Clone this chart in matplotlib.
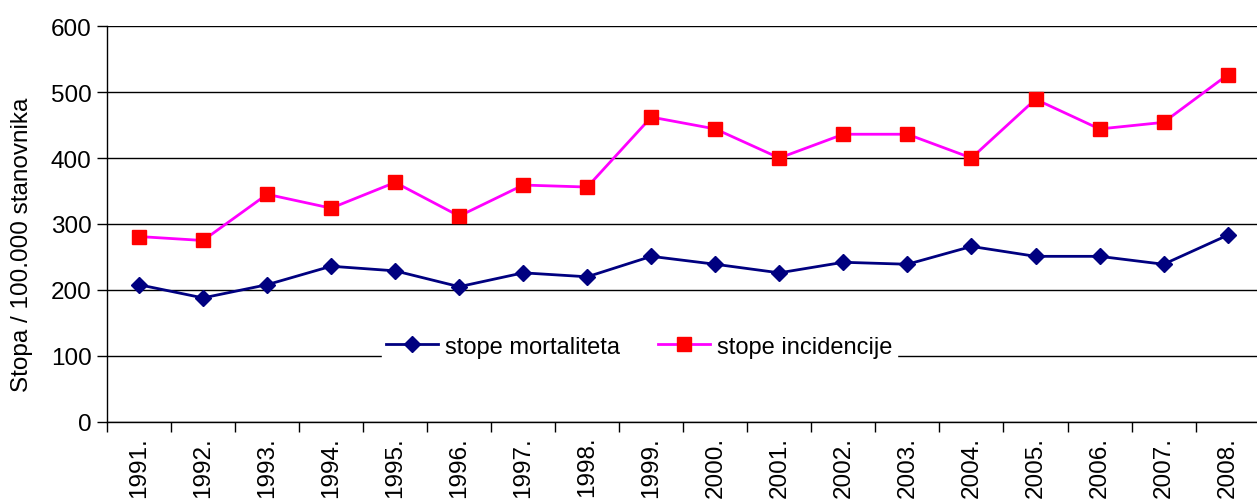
import matplotlib.pyplot as plt
import numpy as np

years = ["1991.", "1992.", "1993.", "1994.", "1995.", "1996.", "1997.", "1998.", "1999.",
         "2000.", "2001.", "2002.", "2003.", "2004.", "2005.", "2006.", "2007.", "2008."]
mortalitet = [208, 188, 208, 236, 229, 205, 226, 220, 251,
              239, 226, 242, 239, 266, 251, 251, 239, 283]
incidencija = [281, 275, 345, 324, 363, 312, 359, 356, 462,
               444, 400, 436, 436, 400, 489, 444, 454, 526]

plt.rcParams["font.family"] = ["Liberation Sans", "DejaVu Sans"]

fig = plt.figure(figsize=(12.57, 5.02), dpi=100)
ax = fig.add_axes([0.0851, 0.1574, 0.917, 0.7888])

x = np.arange(len(years))

ax.plot(x, mortalitet, color="#000080", linewidth=2, marker="D",
        markersize=8, markerfacecolor="#000080", markeredgecolor="#000080",
        label="stope mortaliteta", zorder=3)
ax.plot(x, incidencija, color="#FF00FF", linewidth=2, marker="s",
        markersize=10, markerfacecolor="#FF0000", markeredgecolor="#FF0000",
        label="stope incidencije", zorder=3)

ax.set_xlim(-0.5, len(years) - 0.5)
ax.set_ylim(0, 600)
ax.set_yticks(range(0, 601, 100))
ax.yaxis.grid(True, color="black", linewidth=1)
ax.set_axisbelow(True)

# labels centred, tick marks between categories
ax.set_xticks(x)
ax.set_xticklabels(years, rotation=90, fontsize=17.5)
ax.set_xticks(np.arange(-0.5, len(years)), minor=True)
ax.tick_params(axis="x", which="major", length=0, pad=10)
ax.tick_params(axis="x", which="minor", length=7, direction="out", width=1)
ax.tick_params(axis="y", length=7, width=1, labelsize=17.5, pad=4)

for s in ["top", "right"]:
    ax.spines[s].set_visible(False)
ax.spines["left"].set_linewidth(1)
ax.spines["bottom"].set_linewidth(1)

ax.set_ylabel("Stopa / 100.000 stanovnika", fontsize=17.5)
ax.yaxis.set_label_coords(-0.064, 0.45)

leg = ax.legend(loc="center", bbox_to_anchor=(0.462, 0.19), ncol=2,
                frameon=True, fancybox=False, edgecolor="white",
                facecolor="white", framealpha=1, fontsize=17,
                handlelength=2.2, handletextpad=0.3, columnspacing=1.6,
                borderpad=0.2)
leg.set_zorder(4)

plt.savefig("out.png", dpi=100)
